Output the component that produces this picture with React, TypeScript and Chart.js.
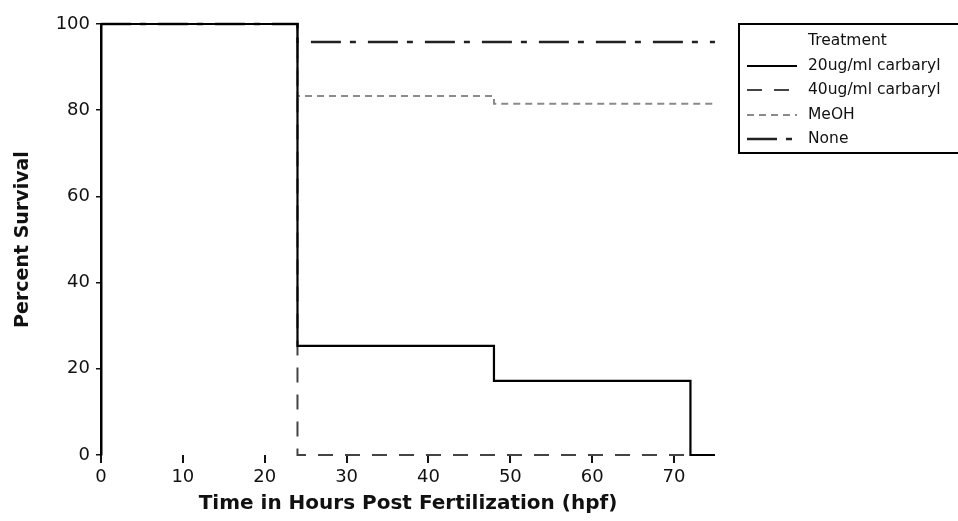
import { useEffect, useRef } from 'react';
import { Chart, registerables } from 'chart.js';

Chart.register(...registerables);

// Time points (hpf) and percent survival per treatment (Kaplan-Meier style steps)
const carbaryl20Time = [0, 24, 48, 72, 75];
const carbaryl20Surv = [100, 25.3, 17.2, 0, 0];
const carbaryl40Time = [0, 24, 75];
const carbaryl40Surv = [100, 0, 0];
const meohTime = [0, 24, 48, 75];
const meohSurv = [100, 83.3, 81.5, 81.5];
const noneTime = [0, 24, 75];
const noneSurv = [100, 95.8, 95.8];

const seriesLabels = ['20ug/ml carbaryl', '40ug/ml carbaryl', 'MeOH', 'None'];
const legendTitle = 'Treatment';
const xTitle = 'Time in Hours Post Fertilization (hpf)';
const yTitle = 'Percent Survival';
const xTicks = [0, 10, 20, 30, 40, 50, 60, 70];

const toPts = (xs: number[], ys: number[]) => xs.map((x, i) => ({ x, y: ys[i] }));

const styles = [
  { color: '#000000', dash: [] as number[], width: 2.2 },
  { color: '#444444', dash: [15, 12], width: 2 },
  { color: '#8a8a8a', dash: [7, 5], width: 2 },
  { color: '#222222', dash: [30, 9, 6, 12], width: 2.5 },
];

const legendPlugin = {
  id: 'customLegend',
  afterDraw(chart: any) {
    const ctx = chart.ctx as CanvasRenderingContext2D;
    ctx.save();
    ctx.strokeStyle = '#000';
    ctx.lineWidth = 2;
    ctx.setLineDash([]);
    ctx.strokeRect(739, 24, 260, 129);
    ctx.fillStyle = '#111';
    ctx.font = '15.5px "DejaVu Sans"';
    ctx.textBaseline = 'middle';
    ctx.textAlign = 'left';
    ctx.fillText(legendTitle, 808, 41);
    const rows = [66, 90, 115, 139];
    chart.data.datasets.forEach((ds: any, i: number) => {
      const y = rows[i];
      const st = styles[i];
      ctx.beginPath();
      ctx.strokeStyle = st.color;
      ctx.lineWidth = st.width;
      ctx.setLineDash(st.dash);
      ctx.lineDashOffset = 0;
      ctx.moveTo(747, y);
      ctx.lineTo(797, y);
      ctx.stroke();
      ctx.setLineDash([]);
      ctx.fillStyle = '#111';
      ctx.fillText(ds.label, 808, y);
    });
    ctx.restore();
  },
};

export default function App() {
  const ref = useRef<HTMLCanvasElement | null>(null);

  useEffect(() => {
    if (!ref.current) return;
    const allX = [carbaryl20Time, carbaryl40Time, meohTime, noneTime];
    const allY = [carbaryl20Surv, carbaryl40Surv, meohSurv, noneSurv];
    const drawOrder = [0, 3, 2, 1];
    const datasets = allX.map((xs, i) => ({
      label: seriesLabels[i],
      data: toPts(xs, allY[i]),
      stepped: 'before' as const,
      borderColor: styles[i].color,
      borderWidth: styles[i].width,
      borderDash: styles[i].dash,
      pointRadius: 0,
      fill: false,
      clip: false as any,
      order: drawOrder[i],
    }));

    const chart = new Chart(ref.current, {
      type: 'line',
      data: { datasets },
      plugins: [legendPlugin],
      options: {
        animation: false,
        responsive: false,
        devicePixelRatio: 1,
        layout: { padding: { left: 12, right: 243, top: 24, bottom: 5 } },
        plugins: { legend: { display: false }, tooltip: { enabled: false } },
        scales: {
          x: {
            type: 'linear',
            min: 0,
            max: 75,
            afterFit: (s: any) => {
              s.height = 61;
            },
            afterBuildTicks: (s: any) => {
              s.ticks = xTicks.map((v) => ({ value: v }));
            },
            border: { display: false },
            grid: {
              drawOnChartArea: false,
              drawTicks: true,
              tickLength: 8,
              color: '#111',
              lineWidth: 2,
            },
            ticks: {
              stepSize: 10,
              padding: 4,
              color: '#111',
              font: { family: 'DejaVu Sans', size: 18 },
              maxRotation: 0,
            },
            title: {
              display: true,
              text: xTitle,
              color: '#111',
              font: { family: 'DejaVu Sans', size: 20, weight: 'bold' },
              padding: { top: 0, bottom: 0 },
            },
          },
          y: {
            type: 'linear',
            min: 0,
            max: 100,
            afterFit: (s: any) => {
              s.width = 89;
            },
            border: { display: true, color: '#000', width: 2.5 },
            grid: {
              drawOnChartArea: false,
              drawTicks: true,
              tickLength: 5,
              color: '#111',
              lineWidth: 1.5,
            },
            ticks: {
              stepSize: 20,
              padding: 6,
              color: '#111',
              font: { family: 'DejaVu Sans', size: 18 },
            },
            title: {
              display: true,
              text: yTitle,
              color: '#111',
              font: { family: 'DejaVu Sans', size: 19, weight: 'bold' },
              padding: { top: 0, bottom: 0 },
            },
          },
        },
      },
    });
    return () => chart.destroy();
  }, []);

  return (
    <div style={{ position: 'fixed', left: 0, top: 0, width: 958, height: 521, background: '#fff' }}>
      <canvas ref={ref} width={958} height={521} style={{ width: 958, height: 521 }} />
    </div>
  );
}
